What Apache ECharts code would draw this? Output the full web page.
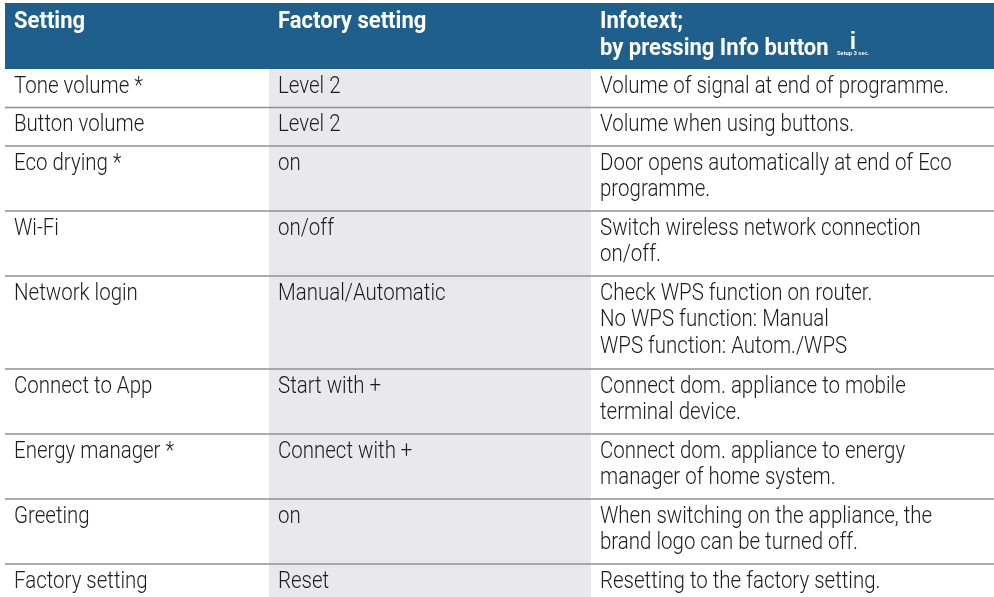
<!DOCTYPE html>
<html>
<head>
<meta charset="utf-8">
<script src="https://cdn.jsdelivr.net/npm/echarts@6/dist/echarts.min.js"></script>
<style>
html, body { margin: 0; padding: 0; background: #fff; }
#chart { width: 994px; height: 597px; }
</style>
</head>
<body>
<div id="chart"></div>
<script>
const headers = ['Setting', 'Factory setting', 'Infotext;\nby pressing Info button'];
const settings = ['Tone volume *', 'Button volume', 'Eco drying *', 'Wi-Fi', 'Network login', 'Connect to App', 'Energy manager *', 'Greeting', 'Factory setting'];
const factoryValues = ['Level 2', 'Level 2', 'on', 'on/off', 'Manual/Automatic', 'Start with +', 'Connect with +', 'on', 'Reset'];
const infotexts = [
    'Volume of signal at end of programme.',
    'Volume when using buttons.',
    'Door opens automatically at end of Eco\nprogramme.',
    'Switch wireless network connection\non/off.',
    'Check WPS function on router.\nNo WPS function: Manual\nWPS function: Autom./WPS',
    'Connect dom. appliance to mobile\nterminal device.',
    'Connect dom. appliance to energy\nmanager of home system.',
    'When switching on the appliance, the\nbrand logo can be turned off.',
    'Resetting to the factory setting.',
];

// layout of the sheet, in pixels of the axes below
const rowEdges = [69, 107.5, 146, 211, 276, 369, 434, 499, 564, 597];
const columnText = [14, 278, 600];
const font = 'Roboto, "Liberation Sans", sans-serif';

function cellText(api, x, y, text, bold) {
    const p = api.coord([x, y]);
    return {
        type: 'text',
        x: p[0],
        y: p[1],
        scaleX: bold ? 0.918 : 0.853,
        style: {
            text,
            fill: bold ? '#fff' : '#1c1c1c',
            font: `${bold ? 'bold' : '300'} 24px ${font}`,
            lineHeight: 26.5,
            verticalAlign: 'top',
        },
    };
}

function renderRow(params, api) {
    const i = api.value(0);
    const top = rowEdges[i];
    const children = [
        cellText(api, columnText[0], top + 4.5, settings[i]),
        cellText(api, columnText[1], top + 4.5, factoryValues[i]),
        cellText(api, columnText[2], top + 4.5, infotexts[i]),
    ];
    if (i > 0) {
        const a = api.coord([5, top]);
        const b = api.coord([994, top]);
        children.unshift({
            type: 'line',
            shape: { x1: a[0], y1: a[1], x2: b[0], y2: b[1] },
            style: { stroke: '#8f8f8f', lineWidth: 1.5 },
        });
    }
    return { type: 'group', children };
}

function renderBackground(params, api) {
    const head = api.coord([5, 3]);
    const headEnd = api.coord([994, rowEdges[0]]);
    const grey = api.coord([269, rowEdges[0]]);
    const greyEnd = api.coord([591, 597]);
    const dot = api.coord([853, 31]);
    const note = api.coord([853, 50.5]);
    return {
        type: 'group',
        children: [
            { type: 'rect', shape: { x: head[0], y: head[1], width: headEnd[0] - head[0], height: headEnd[1] - head[1] }, style: { fill: '#1f5f8b' } },
            { type: 'rect', shape: { x: grey[0], y: grey[1], width: greyEnd[0] - grey[0], height: greyEnd[1] - grey[1] }, style: { fill: '#e9e9eb' } },
            cellText(api, columnText[0], 9, headers[0], true),
            cellText(api, columnText[1], 9, headers[1], true),
            cellText(api, columnText[2], 9, headers[2], true),
            { type: 'text', x: dot[0], y: dot[1], style: { text: 'i', fill: '#fff', font: 'bold 23px "Liberation Sans"', align: 'center', verticalAlign: 'top' } },
            { type: 'text', x: note[0], y: note[1], style: { text: 'Setup 3 sec.', fill: '#fff', font: 'bold 5.5px "Liberation Sans"', align: 'center', verticalAlign: 'top' } },
        ],
    };
}

const chart = echarts.init(document.getElementById('chart'), null, { renderer: 'canvas' });
chart.setOption({
    animation: false,
    backgroundColor: '#fff',
    grid: { left: 0, right: 0, top: 0, bottom: 0 },
    xAxis: { type: 'value', min: 0, max: 994, show: false },
    yAxis: { type: 'value', min: 0, max: 597, inverse: true, show: false },
    series: [
        { type: 'custom', coordinateSystem: 'cartesian2d', data: [[0]], renderItem: renderBackground, silent: true, z: 1 },
        { type: 'custom', coordinateSystem: 'cartesian2d', data: settings.map((_, i) => [i]), renderItem: renderRow, silent: true, z: 2 },
    ],
});
</script>
</body>
</html>
